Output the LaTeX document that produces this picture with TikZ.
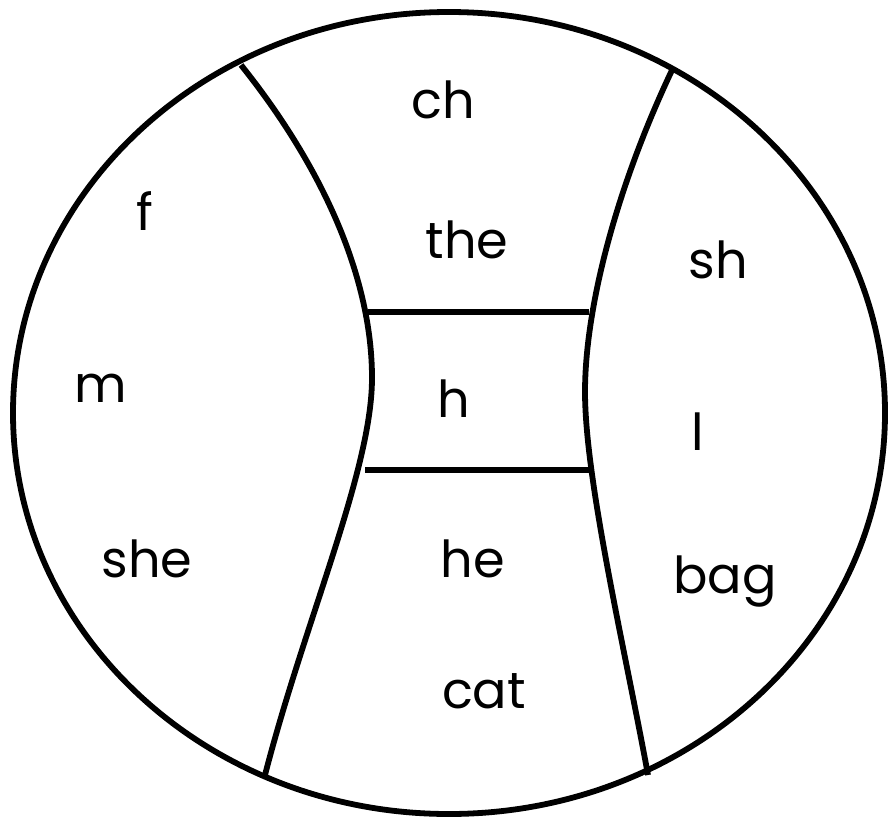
\documentclass[tikz,border=0pt]{standalone}
\usepackage{fontspec}
\setmainfont{Poppins}
\usetikzlibrary{positioning}

\begin{document}
\begin{tikzpicture}[x=0.02cm, y=-0.02cm, line width=3.3pt,
    every node/.style={font=\fontsize{29}{29}\selectfont, anchor=base, inner sep=0pt}]
  \useasboundingbox (0,0) rectangle (888,821);
  % outer rim
  \draw (449,413) ellipse [x radius=436, y radius=401];
  % junctions
  \coordinate (lt) at (241,65);
  \coordinate (lm) at (372,378);
  \coordinate (lb) at (265,775);
  \coordinate (rt) at (673,68);
  \coordinate (rm) at (585,392);
  \coordinate (rb) at (648,775);
  % dividing curves
  \draw (lt) .. controls (325,170) and (372,280) .. (lm)
             .. controls (372,470) and (305,620) .. (lb);
  \draw (rt) .. controls (615,190) and (585,310) .. (rm)
             .. controls (585,480) and (625,650) .. (rb);
  % middle bars
  \draw (368,312) -- (589,312);
  \draw (365,470) -- (591,470);
  % left part
  \node (f)   at (145,230) {f};
  \node (m)   at (101,402) {m};
  \node (she) at (147,577) {she};
  % middle part
  \node (ch)  at (443,118) {ch};
  \node (the) at (467,258) {the};
  \node (h)   at (454,417) {h};
  \node (he)  at (473,577) {he};
  \node (cat) at (484,708) {cat};
  % right part
  \node (sh)  at (718,278) {sh};
  \node (l)   at (698,450) {l};
  \node (bag) at (725,593) {bag};
\end{tikzpicture}
\end{document}
